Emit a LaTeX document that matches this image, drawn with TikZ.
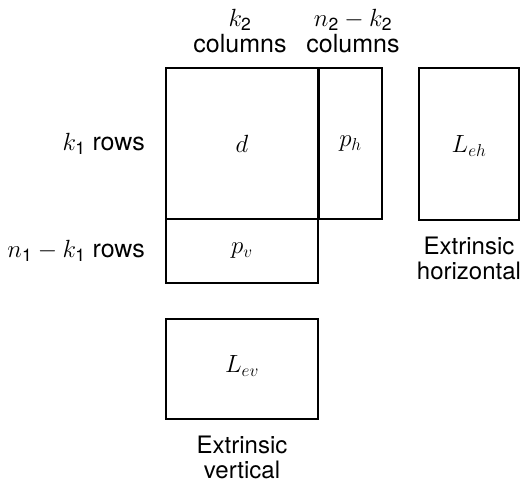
\documentclass[tikz,border=0pt]{standalone}
\usepackage{amsmath}
\usepackage{fontspec}
\setmainfont{TeX Gyre Heros}
\begin{document}
\begin{tikzpicture}[x=1pt,y=-1pt,
  blk/.style={draw=black,line width=1.5pt,inner sep=0pt,fill=none},
  lbl/.style={inner sep=0pt,font=\fontsize{25}{22}\selectfont},
  xlbl/.style={inner sep=0pt,font=\fontsize{24}{25}\selectfont},
  mlbl/.style={inner sep=0pt,font=\fontsize{27}{28}\selectfont}]
\useasboundingbox (0,0) rectangle (524,482);
% blocks
\node[blk,minimum width=152pt,minimum height=151pt] (d) at (242,143.5) {};
\node[blk,minimum width=63pt,minimum height=151pt] (ph) at (350.5,143.5) {};
\node[blk,minimum width=152pt,minimum height=64pt] (pv) at (242,251) {};
\node[blk,minimum width=100pt,minimum height=152pt] (leh) at (469,144) {};
\node[blk,minimum width=152pt,minimum height=100pt] (lev) at (242,369) {};
% block labels
\node[mlbl] (dl) at (d.center) {$d$};
\node[mlbl] (phl) at (ph.center) {$p_h$};
\node[mlbl] (pvl) at (pv.center) {$p_v$};
\node[mlbl] (lehl) at (469,146) {$L_{eh}$};
\node[mlbl] (levl) at (242,366) {$L_{ev}$};
% row labels
\node[lbl,anchor=east] (r1) at (145,143.5) {$k_{\text{1}}$ rows};
\node[lbl,anchor=east] (r2) at (145,251) {$n_{\text{1}}-k_{\text{1}}$ rows};
% column labels
\node[lbl,align=center] (c1) at (240,31) {$k_{\text{2}}$\\[3pt]columns};
\node[lbl,align=center] (c2) at (353,31) {$n_{\text{2}}-k_{\text{2}}$\\[3pt]columns};
% extrinsic labels
\node[xlbl,align=center] (eh) at (469,258) {Extrinsic\\horizontal};
\node[xlbl,align=center] (ev) at (242,457) {Extrinsic\\vertical};
\end{tikzpicture}
\end{document}
